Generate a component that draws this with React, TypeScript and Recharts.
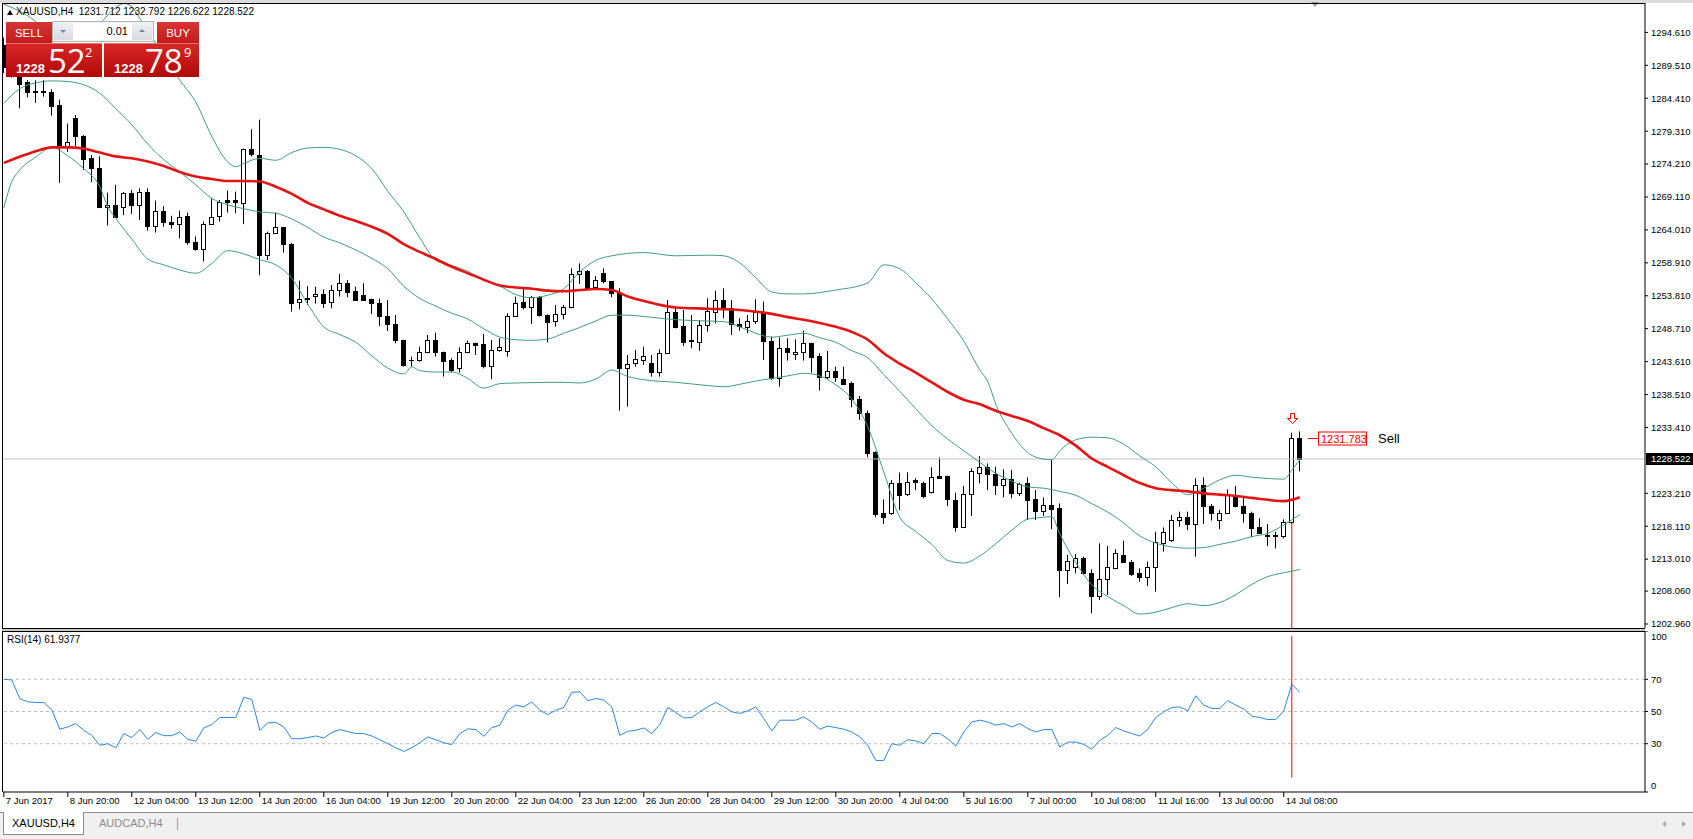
import React from "react";
import { ComposedChart, Bar, Line, XAxis, YAxis, ReferenceLine, ReferenceDot } from "recharts";

const FONT = '"Liberation Sans", Arial, sans-serif';

// XAUUSD H4 candles, bar 0 = 7 Jun 2017
const OPEN = [
  1292.6, 1289.2, 1288.4, 1286.97, 1285.45, 1285.5, 1285.43, 1283.36, 1277.0, 1281.3,
  1278.6, 1275.1, 1273.56, 1267.5, 1267.8, 1267.5, 1269.7, 1267.8, 1269.9, 1264.6,
  1267.0, 1265.3, 1265.0, 1266.2, 1262.2, 1261.0, 1265.0, 1266.2, 1268.65, 1268.65,
  1268.25, 1276.5, 1275.67, 1260.13, 1263.5, 1264.4, 1261.9, 1252.8, 1253.3, 1253.7,
  1254.1, 1252.9, 1254.71, 1255.84, 1254.6, 1253.88, 1253.26, 1252.64, 1250.73, 1249.39,
  1246.96, 1243.86, 1243.86, 1245.15, 1246.96, 1245.05, 1243.86, 1242.57, 1245.05, 1246.44,
  1246.34, 1242.98, 1245.41, 1245.26, 1250.73, 1252.8, 1252.02, 1253.57, 1250.83, 1249.9,
  1250.99, 1252.02, 1257.13, 1257.65, 1255.22, 1257.29, 1256.05, 1254.19, 1242.57, 1243.35,
  1243.86, 1243.35, 1242.05, 1245.0, 1251.35, 1249.13, 1246.96, 1246.6, 1249.28, 1251.35,
  1253.15, 1251.86, 1249.39, 1248.92, 1249.9, 1251.35, 1246.86, 1241.12, 1245.67, 1244.79,
  1245.15, 1246.44, 1244.48, 1241.28, 1242.21, 1240.87, 1240.25, 1237.77, 1235.6, 1229.66,
  1220.1, 1220.21, 1224.86, 1223.05, 1225.27, 1224.86, 1223.46, 1225.89, 1225.89, 1222.17,
  1218.04, 1223.1, 1226.4, 1227.23, 1226.2, 1224.49, 1225.37, 1223.2, 1224.86, 1222.27,
  1220.52, 1221.34, 1220.88, 1211.33, 1211.74, 1213.13, 1210.91, 1207.35, 1209.88, 1211.58,
  1213.65, 1212.62, 1210.81, 1210.19, 1211.74, 1215.56, 1215.97, 1219.07, 1219.59, 1218.45,
  1224.49, 1221.24, 1219.07, 1220.1, 1222.95, 1221.24, 1220.21, 1217.93, 1216.75, 1216.75,
  1216.59, 1218.81, 1231.712,
];
const HIGH = [
  1293.8, 1290.2, 1289.4, 1287.2, 1287.2, 1287.2, 1285.8, 1284.2, 1280.5, 1281.8,
  1278.7, 1275.6, 1275.4, 1269.8, 1271.0, 1269.9, 1270.2, 1270.45, 1270.45, 1268.55,
  1267.7, 1266.2, 1267.0, 1266.7, 1263.0, 1265.3, 1268.9, 1268.65, 1270.1, 1269.95,
  1276.6, 1279.6, 1281.1, 1263.75, 1266.7, 1264.5, 1262.0, 1256.15, 1255.3, 1255.2,
  1254.8, 1255.48, 1257.18, 1256.25, 1255.22, 1255.74, 1253.36, 1253.36, 1253.16, 1250.83,
  1247.0, 1244.38, 1245.93, 1247.73, 1248.1, 1245.15, 1244.12, 1245.82, 1246.86, 1246.55,
  1247.89, 1246.96, 1247.22, 1251.09, 1253.67, 1254.91, 1253.78, 1253.78, 1250.9, 1252.38,
  1252.38, 1258.06, 1258.84, 1257.8, 1256.87, 1258.06, 1256.1, 1254.96, 1244.64, 1245.41,
  1245.93, 1244.64, 1245.51, 1253.15, 1252.12, 1251.6, 1250.83, 1250.06, 1253.41, 1254.6,
  1254.96, 1253.15, 1250.32, 1250.83, 1253.26, 1252.9, 1247.47, 1247.37, 1247.22, 1247.06,
  1248.4, 1246.55, 1244.89, 1245.25, 1242.83, 1242.83, 1240.5, 1238.28, 1236.01, 1229.7,
  1222.27, 1225.27, 1226.41, 1226.46, 1225.53, 1225.01, 1227.23, 1228.78, 1225.95, 1223.31,
  1224.34, 1227.08, 1228.99, 1227.85, 1227.33, 1226.92, 1226.82, 1224.86, 1225.68, 1223.72,
  1222.58, 1228.37, 1221.65, 1213.65, 1213.81, 1213.39, 1211.43, 1215.46, 1215.04, 1214.53,
  1215.87, 1212.87, 1211.58, 1212.62, 1217.26, 1217.93, 1219.85, 1220.36, 1220.36, 1225.53,
  1225.68, 1221.55, 1220.62, 1223.82, 1224.34, 1222.79, 1220.36, 1219.33, 1218.45, 1217.26,
  1219.18, 1232.6, 1232.792,
];
const LOW = [
  1288.3, 1287.6, 1282.85, 1284.55, 1283.7, 1284.65, 1281.7, 1271.3, 1276.1, 1277.0,
  1273.3, 1271.4, 1267.4, 1264.7, 1265.9, 1266.3, 1266.5, 1265.55, 1263.9, 1263.6,
  1264.5, 1264.2, 1262.7, 1261.7, 1260.8, 1259.1, 1264.8, 1265.3, 1266.7, 1266.6,
  1264.9, 1275.4, 1257.0, 1259.35, 1263.4, 1260.5, 1251.36, 1251.7, 1252.4, 1252.6,
  1251.9, 1251.87, 1253.67, 1253.57, 1253.05, 1253.05, 1250.99, 1249.13, 1248.35, 1246.44,
  1242.83, 1242.83, 1243.6, 1244.89, 1244.38, 1241.28, 1241.95, 1241.9, 1244.89, 1244.64,
  1242.57, 1240.87, 1245.15, 1244.38, 1250.57, 1251.71, 1249.44, 1250.57, 1246.6, 1249.03,
  1250.16, 1251.87, 1255.64, 1254.86, 1254.96, 1255.74, 1253.57, 1236.01, 1236.63, 1242.83,
  1243.1, 1241.28, 1241.28, 1244.9, 1248.77, 1246.03, 1245.67, 1245.3, 1248.25, 1249.54,
  1250.32, 1247.73, 1248.4, 1247.99, 1249.44, 1243.86, 1240.76, 1239.73, 1243.76, 1243.86,
  1243.76, 1241.9, 1239.11, 1240.87, 1240.5, 1240.1, 1236.53, 1234.56, 1228.78, 1219.49,
  1218.45, 1219.85, 1220.62, 1222.79, 1223.72, 1222.43, 1223.2, 1225.48, 1221.24, 1217.27,
  1217.94, 1219.69, 1224.75, 1223.72, 1222.94, 1222.58, 1222.43, 1222.79, 1219.07, 1219.07,
  1219.69, 1217.63, 1207.09, 1209.16, 1210.81, 1210.55, 1204.61, 1206.68, 1207.45, 1211.43,
  1212.46, 1210.4, 1209.52, 1208.85, 1207.97, 1214.17, 1215.71, 1218.04, 1217.52, 1213.39,
  1218.45, 1218.97, 1217.63, 1220.0, 1221.03, 1218.66, 1216.39, 1216.9, 1215.04, 1214.68,
  1216.23, 1218.45, 1226.622,
];
const CLOSE = [
  1289.2, 1288.4, 1286.6, 1285.43, 1285.55, 1285.3, 1283.26, 1277.0, 1277.6, 1278.5,
  1275.0, 1273.6, 1267.5, 1267.8, 1266.0, 1269.7, 1267.8, 1269.9, 1264.6, 1267.0,
  1265.3, 1265.0, 1266.05, 1262.2, 1261.0, 1265.0, 1265.95, 1268.4, 1268.4, 1268.3,
  1276.5, 1275.7, 1260.13, 1263.5, 1264.4, 1261.8, 1252.75, 1253.3, 1253.5, 1254.1,
  1252.75, 1254.71, 1255.84, 1254.45, 1253.16, 1253.16, 1252.64, 1250.73, 1249.39, 1246.96,
  1243.04, 1243.9, 1245.15, 1246.96, 1245.05, 1243.65, 1242.31, 1245.05, 1246.44, 1246.19,
  1242.93, 1245.41, 1245.93, 1250.73, 1252.64, 1252.02, 1253.57, 1250.83, 1249.8, 1250.94,
  1252.02, 1257.13, 1257.65, 1254.96, 1256.25, 1256.05, 1254.19, 1242.57, 1243.19, 1243.97,
  1244.48, 1242.05, 1245.0, 1251.35, 1249.02, 1246.7, 1246.75, 1249.28, 1251.45, 1253.15,
  1251.86, 1249.39, 1249.13, 1249.9, 1251.35, 1246.86, 1241.02, 1245.67, 1245.15, 1245.15,
  1246.44, 1244.38, 1241.28, 1242.21, 1241.28, 1240.15, 1237.77, 1235.6, 1229.5, 1220.0,
  1219.59, 1224.86, 1222.95, 1225.01, 1225.01, 1222.79, 1225.68, 1225.63, 1222.27, 1218.04,
  1223.1, 1226.72, 1227.23, 1226.2, 1224.49, 1225.37, 1223.3, 1224.65, 1222.17, 1220.52,
  1221.34, 1220.83, 1211.33, 1212.77, 1213.24, 1210.81, 1207.35, 1209.88, 1211.74, 1213.91,
  1212.62, 1210.7, 1210.19, 1211.74, 1215.71, 1217.26, 1219.07, 1219.59, 1218.45, 1224.49,
  1221.24, 1220.1, 1220.1, 1223.1, 1221.24, 1220.21, 1217.78, 1217.11, 1216.54, 1216.54,
  1218.81, 1231.72, 1228.522,
];

// indicator lines, sampled [bar, price]
const MA_RED: [number, number][] = [
  [0, 1274.4], [2, 1275.35], [4, 1276.2], [6, 1276.8], [8, 1276.8], [10, 1276.6], [12, 1276.0],
  [14, 1275.4], [16, 1275.1], [18, 1274.6], [20, 1273.9], [22, 1273.0], [24, 1272.3], [26, 1271.9],
  [28, 1271.6], [30, 1271.6], [32, 1271.5], [34, 1270.7], [36, 1269.6], [38, 1268.2], [40, 1267.2],
  [42, 1266.2], [44, 1265.4], [46, 1264.5], [48, 1263.4], [50, 1261.8], [52, 1260.6], [54, 1259.5],
  [56, 1258.3], [58, 1257.3], [60, 1256.3], [62, 1255.4], [64, 1255.1], [66, 1254.9], [68, 1254.6],
  [70, 1254.5], [72, 1254.7], [74, 1254.85], [76, 1254.7], [78, 1253.7], [80, 1253.0], [82, 1252.4],
  [84, 1252.0], [88, 1251.8], [92, 1251.6], [96, 1251.0], [98, 1250.5], [100, 1250.1], [102, 1249.6],
  [104, 1249.0], [106, 1248.2], [108, 1247.0], [110, 1244.9], [112, 1243.3], [114, 1241.9],
  [116, 1240.4], [118, 1238.9], [120, 1237.7], [122, 1237.0], [124, 1236.0], [126, 1235.2],
  [128, 1234.4], [130, 1233.3], [132, 1232.2], [134, 1230.6], [136, 1228.6], [138, 1227.3],
  [140, 1226.0], [142, 1224.8], [144, 1224.0], [146, 1223.7], [148, 1223.5], [150, 1223.2],
  [152, 1223.0], [154, 1222.8], [156, 1222.5], [158, 1222.2], [160, 1222.0], [162, 1222.6],
];
const BB_UPPER: [number, number][] = [
  [0, 1299.0], [3, 1297.2], [6, 1294.5], [9, 1294.0], [12, 1296.0], [14, 1298.5], [15, 1299.1],
  [16, 1298.6], [17, 1296.8], [18, 1294.8], [20, 1291.0], [22, 1287.2], [24, 1283.8], [26, 1278.5],
  [28, 1274.5], [29, 1273.8], [30, 1274.3], [32, 1275.1], [34, 1274.8], [36, 1276.0], [38, 1276.7],
  [40, 1276.8], [42, 1276.5], [44, 1275.5], [46, 1273.5], [48, 1270.0], [50, 1266.8], [52, 1262.8],
  [54, 1259.3], [56, 1258.5], [58, 1257.6], [60, 1256.3], [62, 1255.3], [64, 1254.0], [66, 1253.5],
  [68, 1253.9], [70, 1254.9], [72, 1257.5], [74, 1259.3], [76, 1260.0], [80, 1260.5], [84, 1260.0],
  [88, 1260.1], [90, 1260.0], [92, 1258.9], [94, 1256.6], [96, 1254.4], [98, 1254.1], [100, 1254.1],
  [104, 1254.7], [108, 1255.8], [110, 1258.6], [112, 1258.0], [114, 1255.8], [116, 1253.3],
  [118, 1250.2], [120, 1246.8], [122, 1242.3], [123, 1240.5], [124, 1237.0], [126, 1232.5],
  [128, 1229.5], [130, 1228.5], [131, 1228.4], [132, 1229.8], [134, 1231.5], [136, 1231.9],
  [138, 1231.8], [140, 1230.8], [142, 1229.0], [144, 1227.3], [146, 1224.8], [148, 1223.0],
  [150, 1224.0], [152, 1225.3], [154, 1226.0], [156, 1225.7], [158, 1225.5], [160, 1225.4],
  [161, 1226.8], [162, 1228.4],
];
const BB_MIDDLE: [number, number][] = [
  [0, 1283.6], [2, 1285.9], [4, 1286.8], [6, 1287.1], [8, 1287.0], [10, 1286.5], [12, 1285.2],
  [14, 1282.8], [16, 1280.3], [18, 1277.3], [20, 1274.9], [22, 1273.0], [24, 1271.0], [26, 1268.9],
  [28, 1267.9], [30, 1267.3], [32, 1266.8], [34, 1266.6], [36, 1265.7], [38, 1264.4], [40, 1262.9],
  [42, 1262.0], [44, 1260.9], [46, 1259.6], [48, 1258.0], [50, 1255.3], [52, 1253.4], [54, 1252.2],
  [56, 1251.1], [58, 1250.2], [60, 1248.7], [62, 1247.4], [64, 1247.0], [66, 1246.9], [68, 1247.1],
  [70, 1248.0], [72, 1248.9], [74, 1249.9], [76, 1250.8], [78, 1250.8], [80, 1250.6], [84, 1250.1],
  [88, 1249.9], [90, 1249.8], [92, 1249.0], [94, 1248.0], [96, 1247.4], [98, 1247.7], [100, 1248.0],
  [102, 1247.3], [104, 1246.6], [106, 1245.3], [108, 1244.2], [110, 1241.6], [112, 1239.0],
  [114, 1236.3], [116, 1233.7], [118, 1231.6], [120, 1229.8], [122, 1228.0], [124, 1226.3],
  [126, 1225.1], [128, 1224.2], [130, 1224.0], [132, 1223.5], [134, 1222.9], [136, 1221.6],
  [138, 1220.3], [140, 1218.6], [142, 1216.6], [144, 1215.5], [146, 1214.9], [148, 1214.7],
  [150, 1214.8], [152, 1215.3], [154, 1215.8], [156, 1216.5], [158, 1217.0], [160, 1218.3],
  [162, 1219.9],
];
const BB_LOWER: [number, number][] = [
  [0, 1267.4], [1, 1271.5], [2, 1273.3], [4, 1275.3], [6, 1276.8], [8, 1275.5], [10, 1273.5],
  [12, 1270.7], [13, 1267.6], [14, 1265.8], [16, 1262.6], [18, 1259.5], [20, 1258.6], [22, 1257.8],
  [24, 1257.3], [26, 1258.8], [28, 1260.8], [30, 1260.3], [32, 1259.4], [34, 1258.6], [36, 1256.5],
  [38, 1252.5], [40, 1249.0], [42, 1247.8], [44, 1246.6], [46, 1244.5], [48, 1242.6], [50, 1241.7],
  [51, 1242.8], [52, 1242.2], [54, 1242.0], [56, 1242.0], [58, 1241.0], [60, 1239.5], [62, 1240.2],
  [64, 1240.3], [66, 1240.35], [68, 1240.4], [70, 1240.4], [72, 1240.3], [74, 1240.9], [76, 1242.3],
  [78, 1241.3], [80, 1240.8], [84, 1240.4], [88, 1239.9], [90, 1239.7], [92, 1240.1], [94, 1240.6],
  [96, 1241.0], [98, 1241.4], [100, 1241.8], [102, 1241.4], [104, 1240.0], [106, 1237.8],
  [108, 1233.5], [110, 1226.5], [112, 1219.5], [114, 1217.3], [116, 1215.3], [118, 1212.8],
  [120, 1212.4], [122, 1213.5], [124, 1215.4], [126, 1217.5], [128, 1219.2], [130, 1219.5],
  [131, 1219.6], [132, 1216.9], [134, 1212.5], [136, 1209.0], [138, 1207.2], [140, 1205.8],
  [142, 1204.5], [144, 1204.8], [146, 1205.5], [148, 1206.1], [150, 1205.8], [152, 1206.3],
  [154, 1207.5], [156, 1209.1], [158, 1210.3], [160, 1210.9], [162, 1211.4],
];

const RSI = [
  70, 69.6, 58, 56, 55.6, 55.6, 51, 39, 40.4, 42.5,
  38.3, 35.2, 29, 30, 27.5, 36.3, 33.8, 38.8, 32.7, 36.9,
  35, 35, 37.3, 32.7, 31.5, 39.8, 41.9, 46.3, 46.3, 46.3,
  58.8, 57.5, 38.3, 42.9, 43.3, 40.4, 33.1, 33.1, 33.8, 34.8,
  33.5, 36.9, 38.8, 37.5, 36.3, 36.3, 34.8, 32.5, 30, 27.5,
  25.2, 27.5, 30.6, 34.2, 32.5, 30.6, 29.4, 36.3, 39.2, 38.8,
  34.6, 40, 41.5, 50.8, 54, 52.9, 56, 50.8, 48.1, 50.8,
  52.5, 61.9, 62.3, 56.7, 58.1, 57.1, 52.9, 35.2, 37.7, 38.3,
  39.8, 36.3, 41.9, 52.5, 49.4, 46, 46.3, 49.8, 52.9, 55.6,
  52.9, 49.8, 48.8, 50.4, 52.9, 45.6, 37.9, 44.6, 44.6, 44.6,
  46.7, 43.5, 39, 41, 40, 39, 37.3, 34.2, 29, 19.6,
  19.6, 30, 29, 32.5, 31.7, 30, 36.3, 36.3, 33.1, 28.5,
  37.3, 43.5, 44.6, 43.5, 41.5, 42.5, 40.4, 42.5, 39.4, 37.3,
  38.8, 38.8, 27.9, 31, 31, 29.6, 26.5, 32.1, 35.2, 40,
  37.9, 36.3, 34.8, 39, 46.3, 49.8, 52.5, 52.9, 50.4, 59.8,
  54, 51.9, 51.9, 56.7, 54, 51.5, 47.1, 46.3, 45, 45,
  50.4, 66.9, 61.94,
];

const TIME_TICKS = [0, 8, 16, 24, 32, 40, 48, 56, 64, 72, 80, 88, 96, 104, 112, 120, 128, 136, 144, 152, 160];
const TIME_LABELS = [
  "7 Jun 2017", "8 Jun 20:00", "12 Jun 04:00", "13 Jun 12:00", "14 Jun 20:00", "16 Jun 04:00",
  "19 Jun 12:00", "20 Jun 20:00", "22 Jun 04:00", "23 Jun 12:00", "26 Jun 20:00", "28 Jun 04:00",
  "29 Jun 12:00", "30 Jun 20:00", "4 Jul 04:00", "5 Jul 16:00", "7 Jul 00:00", "10 Jul 08:00",
  "11 Jul 16:00", "13 Jul 00:00", "14 Jul 08:00",
];
const PRICE_TICKS = [
  1294.61, 1289.51, 1284.41, 1279.31, 1274.21, 1269.11, 1264.01, 1258.91, 1253.81, 1248.71,
  1243.61, 1238.51, 1233.41, 1223.21, 1218.11, 1213.01, 1208.06, 1202.96,
];
const RSI_TICKS = [0, 30, 50, 70, 100];
const RSI_LEVELS = [70, 50, 30];

const BID = 1228.522;
const SELL_PRICE = 1231.783;
const SIGNAL_BAR = 161;

const X_DOMAIN: [number, number] = [-0.1, 205.15];
const PRICE_DOMAIN: [number, number] = [1202.34, 1299.165];

const toMap = (pts: [number, number][]) => {
  const m: Record<number, number> = {};
  pts.forEach(([i, v]) => (m[i] = v));
  return m;
};
const maMap = toMap(MA_RED);
const upMap = toMap(BB_UPPER);
const midMap = toMap(BB_MIDDLE);
const dnMap = toMap(BB_LOWER);

const rows = OPEN.map((o, i) => ({
  i,
  o,
  h: HIGH[i],
  l: LOW[i],
  c: CLOSE[i],
  range: [LOW[i], HIGH[i]],
  ma: maMap[i],
  up: upMap[i],
  mid: midMap[i],
  dn: dnMap[i],
  rsi: RSI[i],
}));

function Candle(props: any) {
  const { x, y, width, height, payload } = props;
  if (!payload || x == null) return null;
  const { o, h, l, c } = payload;
  const top = Math.min(y, y + height);
  const span = Math.abs(height);
  const k = h > l ? span / (h - l) : 0;
  const col = Math.round(x + width / 2);
  const yO = top + (h - o) * k;
  const yC = top + (h - c) * k;
  const bTop = Math.round(Math.min(yO, yC));
  const bBot = Math.round(Math.max(yO, yC));
  const bull = c > o;
  return (
    <g>
      <line x1={col + 0.5} x2={col + 0.5} y1={top} y2={top + span} stroke="#000" strokeWidth={1} />
      {bBot - bTop < 1 ? (
        <line x1={col - 2} x2={col + 3} y1={bTop + 0.5} y2={bTop + 0.5} stroke="#000" strokeWidth={1} />
      ) : (
        <rect
          x={col - 1.5}
          y={bTop + 0.5}
          width={4}
          height={bBot - bTop}
          fill={bull ? "#fff" : "#000"}
          stroke="#000"
          strokeWidth={1}
        />
      )}
    </g>
  );
}

function SignalArrow(props: any) {
  const { cx, cy } = props;
  const x = Math.round(cx) + 0.5;
  const y = Math.round(cy) + 0.5;
  return (
    <path
      d={`M${x - 2},${y} L${x + 2},${y} L${x + 2},${y + 5} L${x + 5},${y + 5} L${x},${y + 10} L${x - 5},${y + 5} L${x - 2},${y + 5} Z`}
      fill="#fff"
      stroke="#ff0000"
      strokeWidth={1}
    />
  );
}

function SellTag(props: any) {
  const { cx, cy } = props;
  const y = Math.round(cy) + 0.5;
  const x0 = Math.round(cx) + 8;
  return (
    <g>
      <line x1={x0} x2={x0 + 10} y1={y} y2={y} stroke="#ff0000" />
      <rect x={x0 + 10.5} y={y - 6.5} width={48} height={13} fill="#fff" stroke="#ff0000" />
      <text x={x0 + 13} y={y + 4} fontSize={11} fill="#ff0000" fontFamily={FONT}>
        {SELL_PRICE.toFixed(3)}
      </text>
      <text x={x0 + 70} y={y + 4.5} fontSize={13} fill="#000" fontFamily={FONT}>
        Sell
      </text>
    </g>
  );
}

function TimeTick(props: any) {
  const { x, y, payload } = props;
  const idx = TIME_TICKS.indexOf(payload.value);
  return (
    <text x={x + 2} y={y} dy="0.75em" fontSize={9.5} fontFamily={FONT} fill="#000" textAnchor="start">
      {TIME_LABELS[idx]}
    </text>
  );
}

function RsiTick(props: any) {
  const { x, y, payload } = props;
  const v = payload.value;
  const shift = v === 100 ? 6 : v === 0 ? -6 : 0;
  return (
    <text x={x} y={y + shift} dy="0.355em" fontSize={9.5} fontFamily={FONT} fill="#000" textAnchor="start">
      {v}
    </text>
  );
}

const abs = (s: React.CSSProperties): React.CSSProperties => ({ position: "absolute", ...s });

const redBox = "linear-gradient(#d92626, #b10909)";

function TradePanel() {
  const big: React.CSSProperties = { fontFamily: '"Open Sans", "Liberation Sans", sans-serif', color: "#fff", lineHeight: 1 };
  return (
    <div style={abs({ left: 0, top: 0, width: 210, height: 80, zIndex: 5 })}>
      <div style={abs({ left: 6, top: 22, width: 46, height: 21, background: "linear-gradient(#d83535, #c41b1b)", color: "#fff", fontSize: 11.5, fontFamily: FONT, display: "flex", alignItems: "center", justifyContent: "center" })}>SELL</div>
      <div style={abs({ left: 52, top: 21, width: 102, height: 21, background: "#f2f2f2", border: "1px solid #b4b4b4", boxSizing: "border-box" })}>
        <div style={abs({ left: 1, top: 1, width: 19, height: 17, background: "linear-gradient(#eef0f3, #d6dae0)" })} />
        <div style={abs({ left: 7, top: 8, width: 0, height: 0, borderLeft: "3px solid transparent", borderRight: "3px solid transparent", borderTop: "3px solid #6f86a6" })} />
        <div style={abs({ left: 20, top: 1, width: 59, height: 17, background: "#fff", fontSize: 11, fontFamily: FONT, textAlign: "right", lineHeight: "17px", paddingRight: 4, boxSizing: "border-box" })}>0.01</div>
        <div style={abs({ left: 79, top: 1, width: 20, height: 17, background: "linear-gradient(#eef0f3, #d6dae0)" })} />
        <div style={abs({ left: 86, top: 7, width: 0, height: 0, borderLeft: "3px solid transparent", borderRight: "3px solid transparent", borderBottom: "3px solid #6f86a6" })} />
      </div>
      <div style={abs({ left: 157, top: 22, width: 42, height: 21, background: "linear-gradient(#d83535, #c41b1b)", color: "#fff", fontSize: 11.5, fontFamily: FONT, display: "flex", alignItems: "center", justifyContent: "center" })}>BUY</div>
      <div style={abs({ left: 6, top: 43, width: 96, height: 34, background: redBox, borderTop: "1px solid #e67070", boxSizing: "border-box" })}>
        <span style={abs({ ...big, left: 10, top: 18, fontSize: 13, fontFamily: FONT, fontWeight: 700 })}>1228</span>
        <span style={abs({ ...big, left: 42, top: 0, fontSize: 33 })}>52</span>
        <span style={abs({ ...big, left: 79, top: 2, fontSize: 13 })}>2</span>
      </div>
      <div style={abs({ left: 104, top: 43, width: 95, height: 34, background: redBox, borderTop: "1px solid #e67070", boxSizing: "border-box" })}>
        <span style={abs({ ...big, left: 10, top: 18, fontSize: 13, fontFamily: FONT, fontWeight: 700 })}>1228</span>
        <span style={abs({ ...big, left: 41, top: 0, fontSize: 33 })}>78</span>
        <span style={abs({ ...big, left: 80, top: 2, fontSize: 13 })}>9</span>
      </div>
    </div>
  );
}

export default function App() {
  const green = "#3f9e78";
  return (
    <div style={abs({ left: 0, top: 0, width: 1693, height: 839, background: "#fff", overflow: "hidden", fontFamily: FONT })}>
      <div style={abs({ left: 0, top: 0, width: 1693, height: 3, background: "#dcdcdc" })} />
      <div style={abs({ left: 1311, top: 2, width: 0, height: 0, borderLeft: "4px solid transparent", borderRight: "4px solid transparent", borderTop: "5px solid #9a9a9a" })} />

      <div style={abs({ left: 0, top: 0 })}>
        <ComposedChart width={1693} height={628} data={rows} margin={{ top: 3, right: 0, bottom: 0, left: 3 }}>
          <XAxis type="number" dataKey="i" domain={X_DOMAIN} allowDataOverflow hide />
          <YAxis
            orientation="right"
            type="number"
            domain={PRICE_DOMAIN}
            allowDataOverflow
            ticks={PRICE_TICKS}
            interval={0}
            width={48}
            tickSize={3}
            tickMargin={3}
            tickFormatter={(v: number) => v.toFixed(3)}
            axisLine={{ stroke: "#000" }}
            tickLine={{ stroke: "#000" }}
            tick={{ fontSize: 9.5, fill: "#000", fontFamily: FONT }}
          />
          <ReferenceLine y={BID} stroke="#c0c0c0" />
          <ReferenceLine segment={[{ x: SIGNAL_BAR, y: OPEN[SIGNAL_BAR] }, { x: SIGNAL_BAR, y: PRICE_DOMAIN[0] }]} stroke="#ff0000" />
          <Bar dataKey="range" barSize={5} shape={Candle} isAnimationActive={false} />
          <Line dataKey="up" type="monotone" stroke={green} strokeWidth={1} dot={false} connectNulls isAnimationActive={false} />
          <Line dataKey="mid" type="monotone" stroke={green} strokeWidth={1} dot={false} connectNulls isAnimationActive={false} />
          <Line dataKey="dn" type="monotone" stroke={green} strokeWidth={1} dot={false} connectNulls isAnimationActive={false} />
          <Line dataKey="ma" type="monotone" stroke="#e31414" strokeWidth={2.6} dot={false} connectNulls isAnimationActive={false} />
          <ReferenceDot x={SIGNAL_BAR} y={1235.65} r={0} shape={SignalArrow} />
          <ReferenceDot x={162} y={SELL_PRICE} r={0} shape={SellTag} />
        </ComposedChart>
      </div>

      {/* panel frames */}
      <div style={abs({ left: 2, top: 3, width: 1643, height: 1, background: "#000" })} />
      <div style={abs({ left: 2, top: 3, width: 1, height: 789, background: "#000" })} />
      <div style={abs({ left: 2, top: 628, width: 1643, height: 1, background: "#000" })} />
      <div style={abs({ left: 2, top: 629, width: 1643, height: 2, background: "#c8c8c8" })} />
      <div style={abs({ left: 2, top: 631, width: 1643, height: 1, background: "#000" })} />

      <div style={abs({ left: 0, top: 631 })}>
        <ComposedChart width={1693} height={181} data={rows} margin={{ top: 0, right: 0, bottom: 0, left: 3 }}>
          <XAxis
            type="number"
            dataKey="i"
            domain={X_DOMAIN}
            allowDataOverflow
            ticks={TIME_TICKS}
            interval={0}
            height={20}
            tickSize={5}
            tickMargin={0}
            axisLine={{ stroke: "#000" }}
            tickLine={{ stroke: "#000" }}
            tick={(p: any) => <TimeTick {...p} />}
          />
          <YAxis
            orientation="right"
            type="number"
            domain={[0, 100]}
            allowDataOverflow
            ticks={RSI_TICKS}
            interval={0}
            width={48}
            tickSize={3}
            tickMargin={3}
            axisLine={{ stroke: "#000" }}
            tickLine={{ stroke: "#000" }}
            tick={(p: any) => <RsiTick {...p} />}
          />
          {RSI_LEVELS.map((v) => (
            <ReferenceLine key={v} y={v} stroke="#bdbdbd" strokeDasharray="3 3" />
          ))}
          <Line dataKey="rsi" type="linear" stroke="#2a86dc" strokeWidth={1} dot={false} isAnimationActive={false} />
          <ReferenceLine segment={[{ x: SIGNAL_BAR, y: 9 }, { x: SIGNAL_BAR, y: 97 }]} stroke="#ff0000" />
        </ComposedChart>
      </div>

      {/* chart captions */}
      <div style={abs({ left: 7, top: 10, width: 0, height: 0, borderLeft: "3px solid transparent", borderRight: "3px solid transparent", borderBottom: "5px solid #000" })} />
      <div style={abs({ left: 16, top: 6, fontSize: 10, color: "#000", whiteSpace: "pre" })}>XAUUSD,H4  1231.712 1232.792 1226.622 1228.522</div>
      <div style={abs({ left: 7, top: 634, fontSize: 10, color: "#000" })}>RSI(14) 61.9377</div>

      {/* bid price label on axis */}
      <div style={abs({ left: 1646, top: 453, width: 47, height: 12, background: "#000", color: "#fff", fontSize: 9.5, lineHeight: "12px", paddingLeft: 5, boxSizing: "border-box" })}>1228.522</div>

      <TradePanel />

      {/* tab strip */}
      <div style={abs({ left: 0, top: 812, width: 1693, height: 27, background: "#f0f0f0", borderTop: "1px solid #8c8c8c", boxSizing: "border-box" })} />
      <div style={abs({ left: 3, top: 812, width: 81, height: 23, background: "#fff", border: "1px solid #8c8c8c", borderTop: "none", boxSizing: "border-box", fontSize: 11, display: "flex", alignItems: "center", justifyContent: "center" })}>XAUUSD,H4</div>
      <div style={abs({ left: 99, top: 817, fontSize: 11, color: "#8c8c8c" })}>AUDCAD,H4</div>
      <div style={abs({ left: 176, top: 816, fontSize: 12, color: "#9a9a9a" })}>|</div>
      <div style={abs({ left: 1662, top: 821, width: 0, height: 0, borderTop: "3px solid transparent", borderBottom: "3px solid transparent", borderRight: "4px solid #a8a8a8" })} />
      <div style={abs({ left: 1682, top: 821, width: 0, height: 0, borderTop: "3px solid transparent", borderBottom: "3px solid transparent", borderLeft: "4px solid #a8a8a8" })} />
    </div>
  );
}
